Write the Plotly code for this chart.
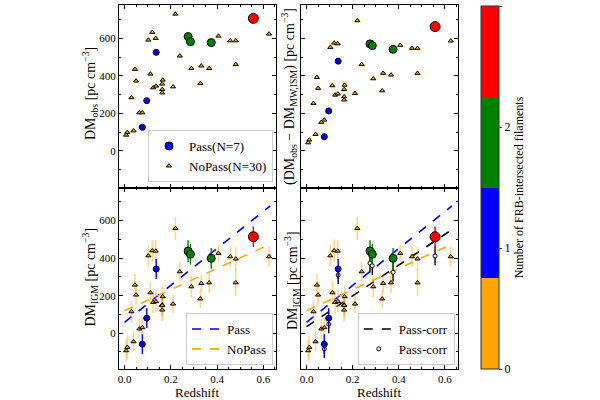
import plotly.graph_objects as go
import numpy as np

# ---------------- data ----------------
# Pass FRBs (intersect >=1 filament)
pass_z = [0.557, 0.275, 0.285, 0.375, 0.137, 0.096, 0.077]
pass_nfil = [3, 2, 2, 2, 1, 1, 1]
pass_dm_obs = [706, 609, 582, 577, 525, 268, 126]
pass_dm_exgal = [662, 570, 561, 541, 478, 213, 76]
pass_dm_igm = [514, 438, 421, 399, 342, 80, -59]
pass_dm_igm_err = [55, 58, 55, 55, 53, 53, 53]
pass_dm_igm_corr = [412, 373, 360, 325, 310, 48, -84]
pass_dm_igm_corr_err = [50, 50, 50, 50, 48, 48, 48]

# NoPass FRBs
nopass_z = [0.220, 0.120, 0.103, 0.135, 0.239, 0.289, 0.332, 0.366, 0.406, 0.457,
            0.481, 0.481, 0.625, 0.328, 0.210, 0.112, 0.045, 0.050, 0.124, 0.136,
            0.165, 0.163, 0.163, 0.163, 0.030, 0.064, 0.077, 0.039, 0.012, 0.007]
nopass_dm_obs = [729, 632, 591, 600, 506, 440, 453, 440, 612, 587,
                 587, 461, 623, 360, 342, 410, 435, 373, 337, 346,
                 378, 357, 328, 310, 284, 204, 204, 108, 99, 85]
nopass_dm_exgal = [694, 575, 552, 571, 461, 385, 414, 405, 563, 547,
                   547, 414, 586, 321, 307, 348, 392, 334, 298, 304,
                   351, 328, 289, 272, 254, 153, 165, 89, 59, 44]
nopass_dm_igm = [559, 440, 413, 438, 328, 248, 266, 269, 426, 408,
                 396, 269, 408, 183, 156, 216, 257, 204, 165, 169,
                 195, 151, 148, 124, 115, 23, 30, -45, -75, -93]
nopass_dm_igm_err = [62, 58, 58, 58, 53, 58, 45, 53, 45, 53,
                     62, 71, 53, 49, 49, 58, 58, 53, 58, 58,
                     60, 62, 58, 60, 58, 53, 53, 53, 62, 58]

# linear fits: [intercept, slope]
fit_pass = [58, 985]
fit_nopass = [119, 565]
fit_pass_corr = [35, 820]
fit_x_range = [0.0, 0.63]

# colour categories (number of filaments 0..3)
cat_colors = ["orange", "blue", "green", "red"]
cbar_ticks = [0, 1, 2, 3]

# ---------------- styling ----------------
FONT = "Liberation Serif, Times New Roman, serif"
X_RANGE = [-0.024, 0.655]
Y_RANGE_TOP = [-197, 777]
Y_RANGE_BOT = [-191, 774]
dom_x_left = [0.1983, 0.46]
dom_x_right = [0.5017, 0.7628]
dom_y_top = [0.53, 0.9875]
dom_y_bot = [0.0775, 0.53]

colorscale = []
for i, c in enumerate(cat_colors):
    colorscale.append([i / 4, c])
    colorscale.append([(i + 1) / 4, c])

fig = go.Figure()

axes = {1: ("x", "y"), 2: ("x2", "y2"), 3: ("x3", "y3"), 4: ("x4", "y4")}

fit_x = np.linspace(fit_x_range[0], fit_x_range[1], 50)


def add_fit(ax, fit, color):
    xa, ya = axes[ax]
    fig.add_trace(go.Scatter(
        x=fit_x, y=fit[0] + fit[1] * fit_x, mode="lines",
        line=dict(color=color, dash="dash", width=1.6),
        xaxis=xa, yaxis=ya, showlegend=False, hoverinfo="skip"))


def add_nopass(ax, yvals, err=None):
    xa, ya = axes[ax]
    fig.add_trace(go.Scatter(
        x=nopass_z, y=yvals, mode="markers",
        marker=dict(symbol="triangle-up", size=4.5, color="orange",
                    line=dict(color="black", width=1)),
        error_y=(dict(type="data", array=err, color="rgba(255,165,0,0.45)",
                      thickness=1.6, width=0) if err is not None else None),
        xaxis=xa, yaxis=ya, showlegend=False, hoverinfo="skip"))


def add_pass(ax, yvals, err=None, showscale=False):
    xa, ya = axes[ax]
    for n in sorted(set(pass_nfil)):
        idx = [i for i, v in enumerate(pass_nfil) if v == n]
        fig.add_trace(go.Scatter(
            x=[pass_z[i] for i in idx], y=[yvals[i] for i in idx], mode="markers",
            marker=dict(size=4 + 2 * n, color=[pass_nfil[i] for i in idx],
                        colorscale=colorscale, cmin=0, cmax=3,
                        line=dict(color="black", width=1),
                        showscale=(showscale and n == 1),
                        colorbar=dict(
                            x=0.8017, xanchor="left", xpad=0,
                            y=0.0775, yanchor="bottom", ypad=0,
                            len=0.9075, lenmode="fraction", thickness=18,
                            outlinewidth=1, outlinecolor="#333",
                            tickvals=cbar_ticks, ticks="outside", ticklen=3,
                            tickfont=dict(family=FONT, size=12, color="black"),
                            title=dict(text="Number of FRB-intersected filaments",
                                       side="right",
                                       font=dict(family=FONT, size=12, color="black")))),
            error_y=(dict(type="data", array=[err[i] for i in idx],
                          color=cat_colors[n], thickness=1.4, width=0)
                     if err is not None else None),
            xaxis=xa, yaxis=ya, showlegend=False, hoverinfo="skip"))


# top-left
add_nopass(1, nopass_dm_obs)
add_pass(1, pass_dm_obs, showscale=True)
# top-right
add_nopass(2, nopass_dm_exgal)
add_pass(2, pass_dm_exgal)
# bottom-left
add_fit(3, fit_pass, "blue")
add_fit(3, fit_nopass, "orange")
add_nopass(3, nopass_dm_igm, nopass_dm_igm_err)
add_pass(3, pass_dm_igm, pass_dm_igm_err)
# bottom-right
add_fit(4, fit_pass, "blue")
add_fit(4, fit_nopass, "orange")
add_fit(4, fit_pass_corr, "black")
add_nopass(4, nopass_dm_igm, nopass_dm_igm_err)
fig.add_trace(go.Scatter(
    x=pass_z, y=pass_dm_igm_corr, mode="markers",
    marker=dict(symbol="circle", size=4, color="white", line=dict(color="black", width=1)),
    error_y=dict(type="data", array=pass_dm_igm_corr_err, color="black", thickness=1.4, width=0),
    xaxis="x4", yaxis="y4", showlegend=False, hoverinfo="skip"))
add_pass(4, pass_dm_igm, pass_dm_igm_err)

# legend entries (dummy traces)
fig.add_trace(go.Scatter(x=[None], y=[None], mode="markers", name="Pass(N=7)",
                         marker=dict(size=8, color="blue", line=dict(color="black", width=1)),
                         legend="legend"))
fig.add_trace(go.Scatter(x=[None], y=[None], mode="markers", name="NoPass(N=30)",
                         marker=dict(symbol="triangle-up", size=4.5, color="orange",
                                     line=dict(color="black", width=1)),
                         legend="legend"))
fig.add_trace(go.Scatter(x=[None], y=[None], mode="lines", name="Pass",
                         line=dict(color="blue", dash="dash", width=1.6), legend="legend2",
                         xaxis="x3", yaxis="y3"))
fig.add_trace(go.Scatter(x=[None], y=[None], mode="lines", name="NoPass",
                         line=dict(color="orange", dash="dash", width=1.6), legend="legend2",
                         xaxis="x3", yaxis="y3"))
fig.add_trace(go.Scatter(x=[None], y=[None], mode="lines", name="Pass-corr",
                         line=dict(color="black", dash="dash", width=1.6), legend="legend3",
                         xaxis="x4", yaxis="y4"))
fig.add_trace(go.Scatter(x=[None], y=[None], mode="markers", name="Pass-corr",
                         marker=dict(size=4, color="white", line=dict(color="black", width=1)),
                         legend="legend3", xaxis="x4", yaxis="y4"))

axis_common = dict(showline=True, linecolor="black", linewidth=1, mirror="allticks",
                   ticks="inside", ticklen=4, tickcolor="black", showgrid=False,
                   zeroline=False, tickfont=dict(family=FONT, size=11, color="black"))
xaxis_common = dict(axis_common, range=X_RANGE, dtick=0.2, tick0=0, tickformat=".1f",
                    minor=dict(ticks="inside", dtick=0.05, ticklen=2, tickcolor="black"))
yaxis_common = dict(axis_common, dtick=200, tick0=0,
                    minor=dict(ticks="inside", dtick=100, ticklen=2, tickcolor="black"))

legend_common = dict(bgcolor="rgba(255,255,255,0.85)", bordercolor="#cccccc", borderwidth=1,
                     font=dict(family=FONT, size=13, color="black"),
                     xanchor="right", yanchor="bottom", tracegroupgap=0, itemsizing="trace")

fig.update_layout(
    width=600, height=400,
    margin=dict(l=0, r=0, t=0, b=0),
    paper_bgcolor="white", plot_bgcolor="white",
    font=dict(family=FONT, size=12, color="black"),
    xaxis=dict(xaxis_common, domain=dom_x_left, anchor="y", showticklabels=False),
    yaxis=dict(yaxis_common, domain=dom_y_top, anchor="x", range=Y_RANGE_TOP),
    xaxis2=dict(xaxis_common, domain=dom_x_right, anchor="y2", showticklabels=False),
    yaxis2=dict(yaxis_common, domain=dom_y_top, anchor="x2", range=Y_RANGE_TOP, showticklabels=False),
    xaxis3=dict(xaxis_common, domain=dom_x_left, anchor="y3"),
    yaxis3=dict(yaxis_common, domain=dom_y_bot, anchor="x3", range=Y_RANGE_BOT),
    xaxis4=dict(xaxis_common, domain=dom_x_right, anchor="y4"),
    yaxis4=dict(yaxis_common, domain=dom_y_bot, anchor="x4", range=Y_RANGE_BOT, showticklabels=False),
    legend=dict(legend_common, x=0.455, y=0.545),
    legend2=dict(legend_common, x=0.455, y=0.0875),
    legend3=dict(legend_common, x=0.758, y=0.0875),
    showlegend=True,
)

ytitle_font = dict(family=FONT, size=14, color="black")
xtitle_font = dict(family=FONT, size=13, color="black")
annots = [
    dict(text="DM<sub>obs</sub> [pc cm<sup>−3</sup>]", x=0.15, y=0.765, textangle=-90, font=ytitle_font),
    dict(text="(DM<sub>obs</sub> − DM<sub>MW,ISM</sub>) [pc cm<sup>−3</sup>]", x=0.4817, y=0.7575,
         textangle=-90, font=ytitle_font),
    dict(text="DM<sub>IGM</sub> [pc cm<sup>−3</sup>]", x=0.15, y=0.306, textangle=-90, font=ytitle_font),
    dict(text="DM<sub>IGM</sub> [pc cm<sup>−3</sup>]", x=0.4867, y=0.2975, textangle=-90, font=ytitle_font),
    dict(text="Redshift", x=0.329, y=0.02, textangle=0, font=xtitle_font),
    dict(text="Redshift", x=0.632, y=0.02, textangle=0, font=xtitle_font),
]
for a in annots:
    fig.add_annotation(xref="paper", yref="paper", showarrow=False,
                       xanchor="center", yanchor="middle", **a)

fig.write_html("out.html")
